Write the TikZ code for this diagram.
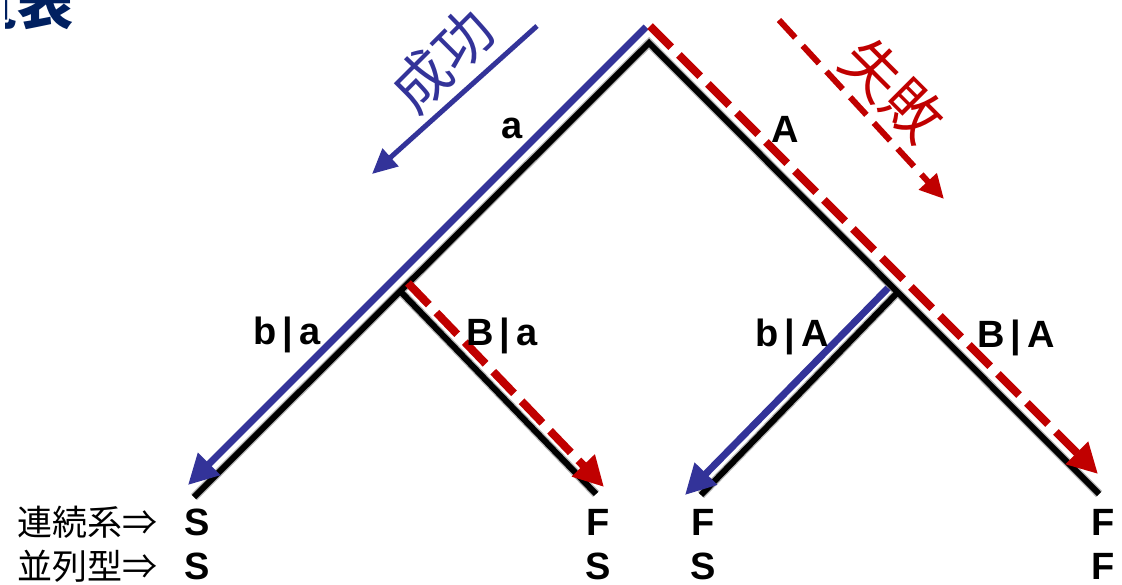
\documentclass[tikz,border=0pt]{standalone}
\usepackage{fontspec}
\setmainfont{Liberation Sans}
\newfontfamily\jp{Noto Sans CJK JP}
\usetikzlibrary{arrows.meta}
\definecolor{sblue}{RGB}{51,51,153}
\definecolor{fred}{RGB}{192,0,0}
\definecolor{navy}{RGB}{0,32,96}
\begin{document}
\begin{tikzpicture}[x=1pt,y=-1pt,
  treehalo/.style={line width=8.5pt, black!30, line join=miter},
  tree/.style={line width=6pt, black, line join=miter},
  lbl/.style={font=\fontsize{38}{38}\selectfont\bfseries, inner sep=0pt, anchor=base},
  leaf/.style={font=\fontsize{38}{38}\selectfont\bfseries, inner sep=0pt, anchor=base},
  jplbl/.style={font=\jp\fontsize{35}{35}\selectfont, inner sep=0pt, anchor=west},
  succ/.style={sblue, line width=7pt, -{Triangle[length=30pt,width=30pt]}},
  fail/.style={fred, line width=8pt, dash pattern=on 30pt off 11pt, -{Triangle[length=30pt,width=30pt]}},
  succleg/.style={sblue, line width=5pt, -{Triangle[length=25pt,width=23pt]}},
  failleg/.style={fred, line width=6pt, dash pattern=on 24pt off 11pt, -{Triangle[length=24pt,width=23pt]}},
  bigjp/.style={font=\jp\fontsize{58}{58}\selectfont, inner sep=0pt},
]
\useasboundingbox (0,0) rectangle (1122,584);
\begin{scope}
\clip (5,0) rectangle (1122,584);
\node[font=\jp\bfseries\fontsize{56}{56}\selectfont, text=navy, anchor=base east, inner sep=0pt] (title) at (74,24) {覧表};
\end{scope}

% tree points
\coordinate (R) at (649,43);
\coordinate (L1) at (194,497);
\coordinate (L4) at (1099,494);
\coordinate (M1) at (400,291);
\coordinate (L2) at (596,494);
\coordinate (M2) at (898,292);
\coordinate (L3) at (701,495);

% black tree
\draw[treehalo] (L1) -- (R) -- (L4);
\draw[treehalo] (M1) -- (L2);
\draw[treehalo] (M2) -- (L3);
\draw[tree] (L1) -- (R) -- (L4);
\draw[tree] (M1) -- (L2);
\draw[tree] (M2) -- (L3);

% coloured paths
\coordinate (bs) at (646,27);
\coordinate (be) at (188,485);
\coordinate (rs) at (650,26);
\coordinate (re) at (1098,474);
\coordinate (rs2) at (408,283);
\coordinate (re2) at (604,487);
\coordinate (bs2) at (888,288);
\coordinate (be2) at (685,495);
\draw[succ] (bs) -- (be);
\draw[fail] (rs) -- (re);
\draw[fail] (rs2) -- (re2);
\draw[succ] (bs2) -- (be2);

% legend arrows
\coordinate (lbs) at (537,26);
\coordinate (lbe) at (372,174);
\coordinate (lrs) at (779,20);
\coordinate (lre) at (944,199);
\draw[succleg] (lbs) -- (lbe);
\draw[failleg] (lrs) -- (lre);
\node[bigjp, text=sblue, rotate=45] (succlbl) at (442,60) {成功};
\node[bigjp, text=fred, rotate=-45] (faillbl) at (893,90) {失敗};

% branch labels
\node[lbl] (la) at (512,138) {a};
\node[lbl] (lA) at (785,142) {A};
\node[lbl] (lba) at (287,344) {b\kern6pt|\kern6pt a};
\node[lbl] (lBa) at (502,345) {B\kern6pt|\kern6pt a};
\node[lbl] (lbA) at (792,346) {b\kern6pt|\kern6pt A};
\node[lbl] (lBA) at (1016,347) {B\kern6pt|\kern6pt A};

% leaves
\node[leaf] (s1) at (197,535) {S};
\node[leaf] (p1) at (197,579) {S};
\node[leaf] (s2) at (598,535) {F};
\node[leaf] (p2) at (598,579) {S};
\node[leaf] (s3) at (703,535) {F};
\node[leaf] (p3) at (703,579) {S};
\node[leaf] (s4) at (1103,535) {F};
\node[leaf] (p4) at (1103,579) {F};

% left labels
\node[jplbl] (serial) at (17,522) {連続系⇒};
\node[jplbl] (parallel) at (17,566) {並列型⇒};
\end{tikzpicture}
\end{document}
